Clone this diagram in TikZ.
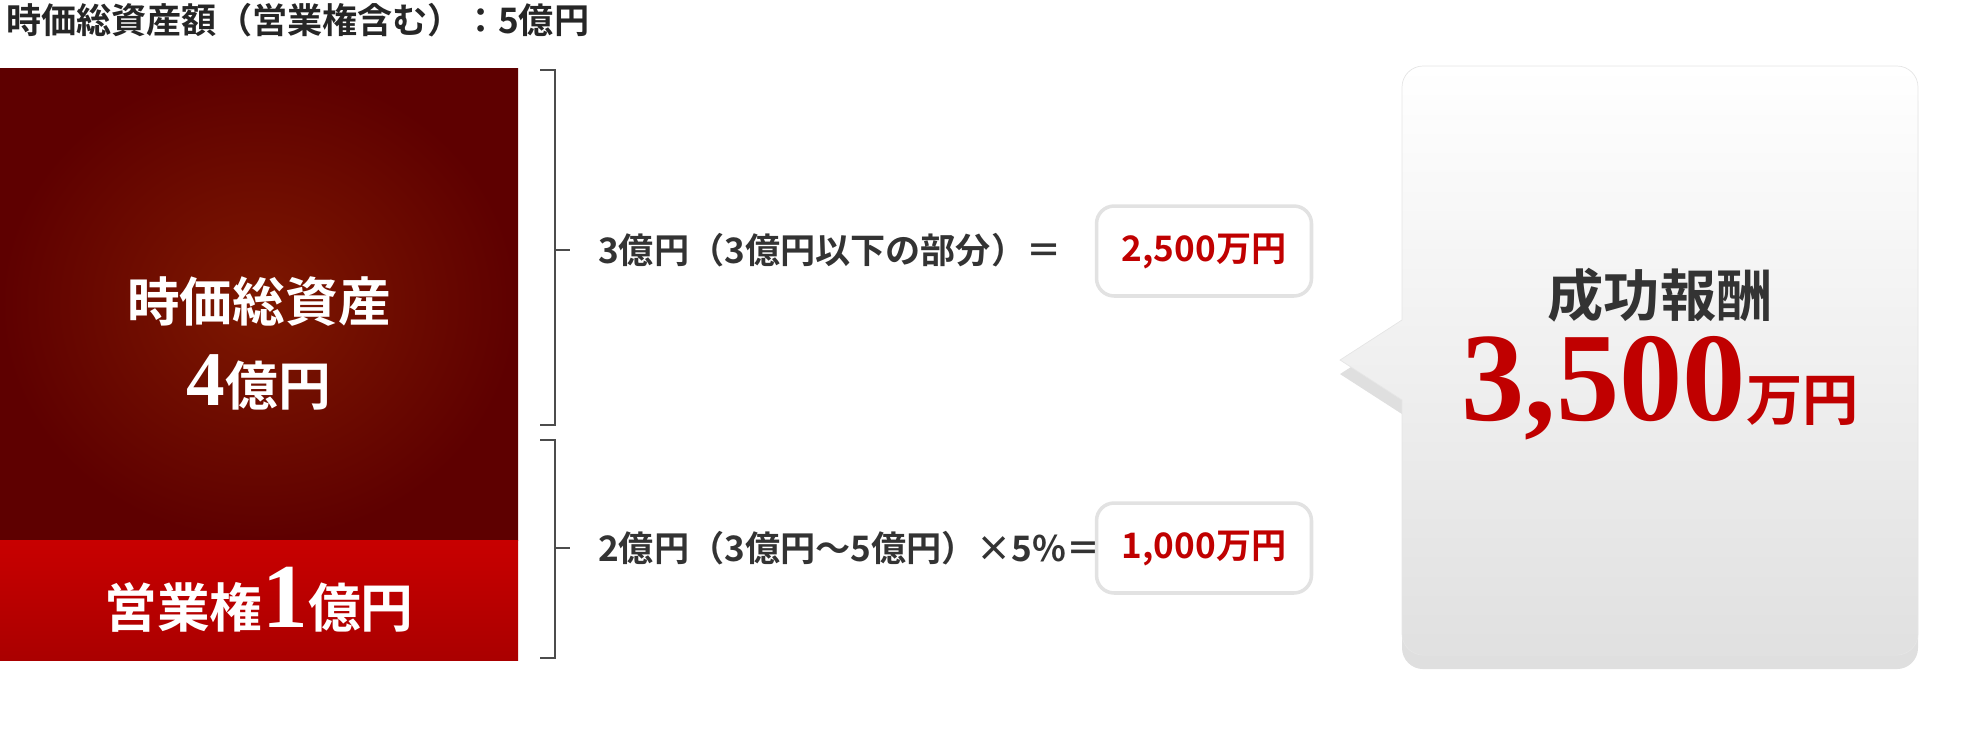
\documentclass[tikz,border=0pt]{standalone}
\usepackage{fontspec}
\setmainfont{Noto Sans CJK JP}[BoldFont={* Bold}]
\newfontfamily\numfont{Liberation Serif}[BoldFont={* Bold}]
\usetikzlibrary{shadows}
\definecolor{darkred}{HTML}{5E0000}
\definecolor{midred}{HTML}{7E1800}
\definecolor{brightred}{HTML}{C80000}
\definecolor{valred}{HTML}{C00000}
\definecolor{boxline}{HTML}{E2E2E2}
\tikzset{
  brace/.style={line width=1.2pt, black!70},
  formula/.style={anchor=west, font=\bfseries\fontsize{20}{24}\selectfont, black!80},
  valbox/.style={draw=boxline, line width=2pt, rounded corners=10pt, fill=white,
    minimum width=4.3cm, minimum height=1.8cm, text=valred, font=\bfseries\fontsize{20}{24}\selectfont},
}
\begin{document}
\begin{tikzpicture}[x=0.02cm, y=-0.02cm]
    \useasboundingbox (0,0) rectangle (1980,734);
    \node [anchor=west, font=\bfseries\fontsize{20}{24}\selectfont, black!85] (title) at (0,20) {時価総資産額（営業権含む）：5億円};
    % asset boxes
    \shade [inner color=midred, outer color=darkred] (0,68) rectangle (518,540);
    \shade [top color=brightred, bottom color=brightred!85!black] (0,540) rectangle (518,660);
    \node [text=white, font=\bfseries\fontsize{30}{36}\selectfont] (assets) at (259,302) {時価総資産};
    \node [text=white, font=\bfseries\fontsize{30}{36}\selectfont] (assetsval) at (259,382) {{\numfont\fontsize{44}{48}\selectfont 4}億円};
    \node [text=white, font=\bfseries\fontsize{30}{36}\selectfont] (goodwill) at (259,600) {営業権{\numfont\fontsize{52}{56}\selectfont 1}億円};
    % brackets
    \draw [brace] (540,70) -- (555,70) -- (555,425) -- (540,425);
    \draw [brace] (555,250) -- (570,250);
    \draw [brace] (540,440) -- (555,440) -- (555,658) -- (540,658);
    \draw [brace] (555,548) -- (570,548);
    % formulas
    \node [formula] (f1) at (592,250) {3億円（3億円以下の部分）＝};
    \node [formula] (f2) at (592,548) {2億円（3億円〜5億円）×5\%＝};
    \node [valbox] (v1) at (1204,251) {2,500万円};
    \node [valbox] (v2) at (1204,548) {1,000万円};
    % callout
    \shade [top color=white, bottom color=black!12, draw=black!10, drop shadow={opacity=0.25, shadow xshift=0pt, shadow yshift=-8pt}]
      [rounded corners=12pt] (1402,66) -- (1918,66) -- (1918,655) -- (1402,655) [sharp corners] -- (1402,400) -- (1340,360) -- (1402,320) [rounded corners=12pt] -- cycle;
    \node [font=\bfseries\fontsize{32}{38}\selectfont, black!80] (reward) at (1660,295) {成功報酬};
    \node [text=valred, font=\bfseries\fontsize{32}{38}\selectfont] (rewardval) at (1660,388) {{\numfont\fontsize{72}{76}\selectfont 3,500}万円};
\end{tikzpicture}
\end{document}
